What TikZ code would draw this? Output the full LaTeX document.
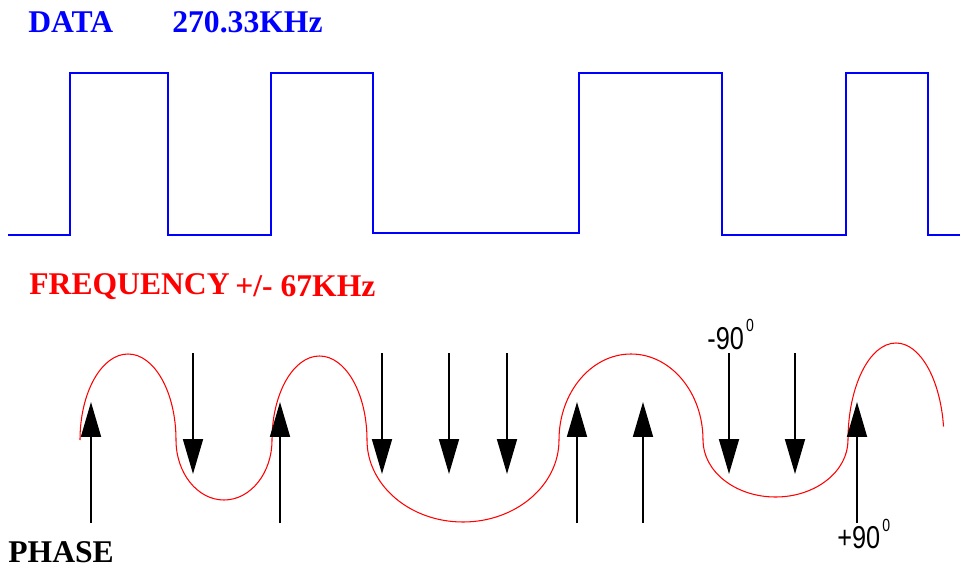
\documentclass[tikz,border=0pt]{standalone}
\usepackage{fontspec}
\setmainfont{Liberation Serif}
\newfontfamily\grausfont[FakeStretch=0.8]{Liberation Sans}
\usepackage{tikz}
\usetikzlibrary{arrows.meta}
\definecolor{azul}{RGB}{0,0,255}
\definecolor{vermelho}{RGB}{255,0,0}

\begin{document}
\begin{tikzpicture}[x=0.02cm, y=0.02cm,
    rotulo/.style={anchor=base west, inner sep=0pt, font=\fontsize{18}{20}\selectfont\bfseries},
    grau/.style={anchor=base west, inner sep=0pt, font=\fontsize{18}{20}\selectfont\grausfont},
    sinal/.style={azul, line width=1pt},
    onda/.style={vermelho, line width=0.6pt},
    seta/.style={-{Triangle[length=0.7cm, width=0.4cm]}, line width=1pt, black}
  ]
    \useasboundingbox (0,0) rectangle (960,569);

    % dados
    \node[rotulo, text=azul] (dados) at (28,536) {DATA};
    \node[rotulo, text=azul] (taxa) at (172,536) {270.33KHz};
    \draw[sinal] (8,334) -- (70,334) -- (70,496) -- (168,496) -- (168,334) -- (271,334)
      -- (271,496) -- (373,496) -- (373,336) -- (579,336) -- (579,496) -- (722,496)
      -- (722,334) -- (846,334) -- (846,496) -- (928,496) -- (928,334) -- (960,334);

    % frequencia
    \node[rotulo, text=vermelho] (freq) at (29,275) {FREQUENCY};
    \node[rotulo, text=vermelho] (desvio) at (235,273) {+/- 67KHz};
    \draw[onda] (80,129)
      arc[start angle=180, end angle=0, x radius=48, y radius=86]
      arc[start angle=180, end angle=360, x radius=48, y radius=60]
      arc[start angle=180, end angle=0, x radius=47.5, y radius=84]
      arc[start angle=180, end angle=360, x radius=96, y radius=82]
      arc[start angle=180, end angle=0, x radius=72, y radius=86]
      arc[start angle=180, end angle=360, x radius=72.5, y radius=57]
      arc[start angle=180, end angle=8, x radius=48, y radius=97];

    % fase
    \node[rotulo] (fase) at (8,7) {PHASE};
    \coordinate (s1i) at (91,46);  \coordinate (s1f) at (91,167);
    \coordinate (s2i) at (280,46); \coordinate (s2f) at (280,167);
    \coordinate (s3i) at (577,46); \coordinate (s3f) at (577,167);
    \coordinate (s4i) at (643,46); \coordinate (s4f) at (643,167);
    \coordinate (s5i) at (857,46); \coordinate (s5f) at (857,167);
    \coordinate (d1i) at (193,216); \coordinate (d1f) at (193,95);
    \coordinate (d2i) at (382,216); \coordinate (d2f) at (382,95);
    \coordinate (d3i) at (449,216); \coordinate (d3f) at (449,95);
    \coordinate (d4i) at (507,216); \coordinate (d4f) at (507,95);
    \coordinate (d5i) at (729,216); \coordinate (d5f) at (729,95);
    \coordinate (d6i) at (795,216); \coordinate (d6f) at (795,95);
    \draw[seta] (s1i) -- (s1f);
    \draw[seta] (s2i) -- (s2f);
    \draw[seta] (s3i) -- (s3f);
    \draw[seta] (s4i) -- (s4f);
    \draw[seta] (s5i) -- (s5f);
    \draw[seta] (d1i) -- (d1f);
    \draw[seta] (d2i) -- (d2f);
    \draw[seta] (d3i) -- (d3f);
    \draw[seta] (d4i) -- (d4f);
    \draw[seta] (d5i) -- (d5f);
    \draw[seta] (d6i) -- (d6f);

    \node[grau] (menos) at (707,220) {-90\kern1.2pt\raisebox{10pt}{\fontsize{10}{10}\selectfont 0}};
    \node[grau] (mais) at (837,21) {+90\kern1.2pt\raisebox{9.6pt}{\fontsize{10}{10}\selectfont 0}};
  \end{tikzpicture}
\end{document}
